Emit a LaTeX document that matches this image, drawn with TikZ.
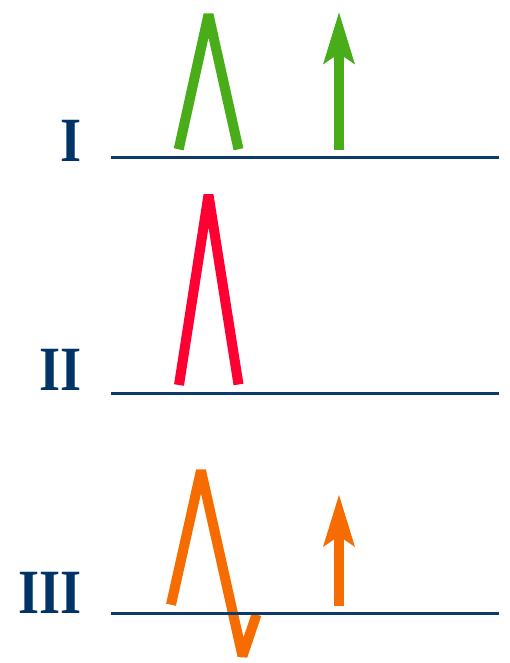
\documentclass[tikz,border=0pt]{standalone}
\usepackage{fontspec}
\usepackage{xcolor}
\usetikzlibrary{arrows.meta}
\newfontfamily\levelfont{Liberation Serif}[FakeStretch=0.86]
\definecolor{navy}{HTML}{0B3A6B}
\definecolor{labelblue}{HTML}{003366}
\definecolor{spikegreen}{HTML}{48AD19}
\definecolor{spikered}{HTML}{FF0033}
\definecolor{spikeorange}{HTML}{F76C00}

\begin{document}
\begin{tikzpicture}[
  x=1pt, y=-1pt,
  axisline/.style={line width=2.6pt, draw=navy},
  spike/.style={line width=10pt, line join=bevel},
  uparrow/.style={line width=10pt,
    -{Stealth[length=52pt, width=32pt, inset=11pt, line width=0pt]}},
  level/.style={font=\levelfont\bfseries\fontsize{63}{63}\selectfont,
    text=labelblue, anchor=base east, inner sep=0pt}
]
\useasboundingbox (0,0) rectangle (509,663);

%% ── Row y-positions (axis lines) ─────────────────────────────────────
\def\yA{157.3}   % I
\def\yB{393.3}   % II
\def\yC{613.3}   % III

%% ── Row labels ───────────────────────────────────────────────────────
\node[level] (LA) at (82, 162)   {I};
\node[level] (LB) at (82, 390)   {II};
\node[level] (LC) at (82, 613.3) {III};

%% ── Row I: green spike + arrow ───────────────────────────────────────
\coordinate (A1) at (178.7, 149.3);
\coordinate (A2) at (208.5, 14.5);
\coordinate (A3) at (238.5, 149.3);
\draw[spike, spikegreen] (A1) -- (A2) -- (A3);
\coordinate (Abot) at (339, 150);
\coordinate (Atip) at (339, 12.5);
\draw[uparrow, spikegreen] (Abot) -- (Atip);

%% ── Row II: red spike ────────────────────────────────────────────────
\coordinate (B1) at (179, 385);
\coordinate (B2) at (208.5, 195);
\coordinate (B3) at (238.5, 384.5);
\draw[spike, spikered] (B1) -- (B2) -- (B3);

%% ── Row III: orange spike with undershoot + arrow ────────────────────
\coordinate (C1) at (171, 604.7);
\coordinate (C2) at (201, 470.5);
\coordinate (C3) at (242.5, 656);
\coordinate (C4) at (256.5, 614.5);
\draw[spike, spikeorange] (C1) -- (C2) -- (C3) -- (C4);
\coordinate (Cbot) at (339, 605.7);
\coordinate (Ctip) at (339, 495);
\draw[uparrow, spikeorange] (Cbot) -- (Ctip);

%% ── Axis lines ───────────────────────────────────────────────────────
\coordinate (XA0) at (111, \yA); \coordinate (XA1) at (499, \yA);
\coordinate (XB0) at (111, \yB); \coordinate (XB1) at (499, \yB);
\coordinate (XC0) at (111, \yC); \coordinate (XC1) at (499, \yC);
\draw[axisline] (XA0) -- (XA1);
\draw[axisline] (XB0) -- (XB1);
\draw[axisline] (XC0) -- (XC1);

\end{tikzpicture}
\end{document}
